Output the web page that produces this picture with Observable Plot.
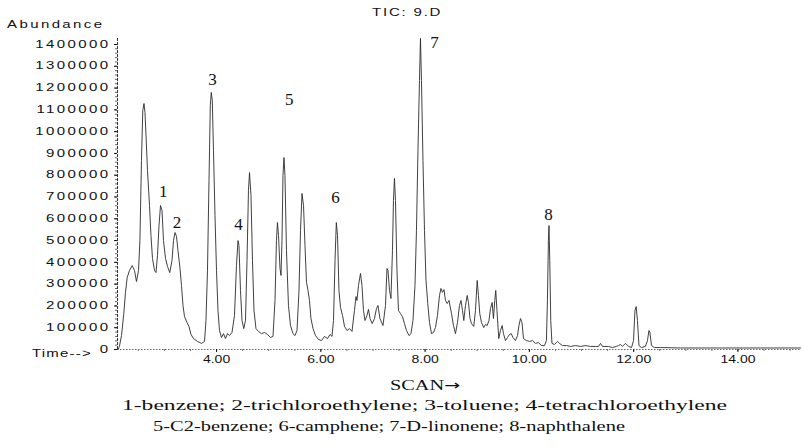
<!DOCTYPE html>
<html><head><meta charset="utf-8">
<script src="https://cdn.jsdelivr.net/npm/d3@7"></script>
<script src="https://cdn.jsdelivr.net/npm/@observablehq/plot@0.6"></script>
<style>
html,body{margin:0;padding:0;background:#fff;}
body{position:relative;width:804px;height:447px;overflow:hidden;}
#chart{position:absolute;left:0;top:0;}
.cap{position:absolute;white-space:nowrap;font-family:"Liberation Serif","Times New Roman",serif;font-size:15px;line-height:15px;color:#111;transform-origin:0 0;}
.arrow{font-family:"DejaVu Sans",sans-serif;font-size:14px;}
</style></head><body>
<div id="chart"></div>
<div class="cap" id="cap0"></div>
<div class="cap" id="cap1"></div>
<div class="cap" id="cap2"></div>
<script>
// ---- data (retention time in minutes, abundance) ----
const times = [
 2.11,2.136,2.177,2.221,2.253,2.286,2.33,2.382,2.426,2.464,
 2.503,2.53,2.56,2.585,2.608,2.627,2.647,2.675,2.714,2.742,
 2.771,2.81,2.838,2.867,2.896,2.925,2.954,2.982,3.021,3.059,
 3.103,3.145,3.174,3.203,3.232,3.26,3.299,3.327,3.356,3.385,
 3.433,3.471,3.51,3.558,3.634,3.711,3.769,3.797,3.826,3.855,
 3.88,3.899,3.918,3.941,3.97,3.999,4.027,4.056,4.095,4.133,
 4.171,4.21,4.248,4.296,4.344,4.382,4.411,4.43,4.459,4.488,
 4.522,4.555,4.584,4.612,4.632,4.66,4.689,4.718,4.756,4.804,
 4.862,4.919,4.977,5.034,5.082,5.121,5.149,5.168,5.188,5.217,
 5.236,5.255,5.274,5.293,5.312,5.341,5.379,5.418,5.466,5.504,
 5.543,5.581,5.61,5.639,5.668,5.696,5.725,5.754,5.782,5.811,
 5.85,5.898,5.955,6.013,6.07,6.128,6.176,6.214,6.243,6.272,
 6.297,6.32,6.348,6.377,6.416,6.454,6.502,6.55,6.598,6.645,
 6.674,6.693,6.722,6.761,6.789,6.818,6.847,6.885,6.914,6.943,
 6.985,7.029,7.067,7.096,7.134,7.192,7.24,7.269,7.288,7.317,
 7.345,7.374,7.393,7.412,7.432,7.46,7.489,7.528,7.566,7.604,
 7.643,7.691,7.729,7.767,7.806,7.834,7.863,7.892,7.911,7.93,
 7.959,7.988,8.017,8.051,8.084,8.122,8.161,8.199,8.237,8.276,
 8.304,8.333,8.362,8.391,8.423,8.458,8.506,8.544,8.582,8.621,
 8.659,8.688,8.717,8.742,8.774,8.807,8.832,8.861,8.889,8.933,
 8.966,8.999,9.023,9.048,9.081,9.125,9.158,9.19,9.225,9.254,
 9.286,9.311,9.336,9.355,9.378,9.413,9.445,9.478,9.503,9.541,
 9.58,9.618,9.651,9.686,9.733,9.772,9.8,9.829,9.858,9.887,
 9.944,10.002,10.059,10.117,10.174,10.232,10.289,10.327,10.346,10.365,
 10.376,10.391,10.41,10.433,10.481,10.539,10.577,10.635,10.711,10.788,
 10.884,10.98,11.076,11.172,11.268,11.325,11.364,11.402,11.517,11.594,
 11.67,11.709,11.747,11.785,11.843,11.901,11.959,11.997,12.025,12.048,
 12.073,12.102,12.15,12.226,12.265,12.293,12.312,12.342,12.399,12.514,
 12.898,13.665,14.432,15.2
];
const abundance = [
 0,13800,64300,165000,262000,330000,363000,385000,363000,312000,
 363000,500000,868000,1097000,1129000,1088000,982000,822000,661000,523000,
 418000,363000,353000,431000,569000,661000,638000,500000,418000,381000,
 353000,408000,500000,537000,519000,454000,372000,294000,202000,151000,
 124000,106000,69000,50000,37000,28000,37000,133000,363000,776000,
 1120000,1180000,1143000,913000,615000,363000,179000,87000,55000,73000,
 50000,73000,64000,78000,156000,386000,500000,477000,271000,133000,
 96000,133000,408000,730000,812000,707000,408000,179000,96000,83000,
 73000,78000,69000,55000,60000,225000,500000,583000,523000,372000,
 340000,500000,799000,881000,799000,454000,202000,110000,73000,64000,
 87000,271000,546000,716000,661000,477000,308000,271000,225000,142000,
 96000,64000,46000,41000,60000,50000,69000,60000,133000,408000,
 583000,523000,271000,193000,156000,106000,87000,96000,83000,179000,
 243000,225000,294000,349000,294000,179000,133000,156000,184000,142000,
 119000,142000,188000,202000,142000,110000,202000,372000,363000,271000,
 234000,454000,684000,785000,684000,363000,179000,165000,151000,119000,
 87000,64000,73000,133000,294000,546000,913000,1235000,1428000,1235000,
 868000,546000,317000,211000,124000,73000,78000,101000,156000,248000,
 280000,262000,275000,225000,211000,225000,165000,110000,73000,124000,
 202000,225000,179000,133000,202000,248000,216000,142000,119000,106000,
 179000,317000,248000,165000,124000,101000,115000,110000,133000,188000,
 216000,142000,225000,271000,179000,50000,87000,110000,73000,41000,
 55000,69000,73000,55000,41000,64000,110000,142000,124000,50000,
 41000,37000,41000,28000,32000,18000,18000,41000,225000,500000,
 569000,408000,133000,28000,23000,37000,28000,18000,18000,14000,
 18000,14000,18000,14000,14000,14000,28000,14000,14000,9000,
 14000,18000,23000,14000,28000,14000,9000,41000,179000,197000,
 133000,18000,9000,14000,41000,87000,78000,18000,9000,9000,
 7000,7000,7000,7000
];
const peakLabels = ["1","2","3","4","5","6","7","8"];
const peakLabelTimes = [2.976, 3.241, 3.922, 4.421, 5.393, 6.281, 8.18, 10.366];
const peakLabelAbundance = [723000, 585000, 1239000, 571500, 1147500, 695400, 1406900, 619700];
const yTicks = [0,100000,200000,300000,400000,500000,600000,700000,800000,900000,1000000,1100000,1200000,1300000,1400000];
const xTicks = [4, 6, 8, 10, 12, 14];
const titleText = "TIC: 9.D";
const yLabelText = "Abundance";
const xLabelText = "Time-->";
const captionTitle = "SCAN";
const captionArrow = "\u2192";
const captionLines = [
  "1-benzene; 2-trichloroethylene; 3-toluene; 4-tetrachloroethylene",
  "5-C2-benzene; 6-camphene; 7-D-linonene; 8-naphthalene"
];

const yMinor = d3.range(0, 1400001, 20000);
const xMinor = d3.range(2.5, 15.1, 0.5);

const series = times.map((t, i) => ({t, a: abundance[i]}));
const peaks = peakLabels.map((label, i) => ({label, t: peakLabelTimes[i], a: peakLabelAbundance[i]}));

const svg = Plot.plot({
  width: 804, height: 368,
  marginLeft: 117, marginRight: 4, marginTop: 38, marginBottom: 19,
  x: {domain: [2.1, 15.2], label: null},
  y: {domain: [0, 1427500], label: null},
  style: {background: "#fff", color: "#111", fontFamily: "'Liberation Sans', Arial, sans-serif", fontSize: "10px"},
  marks: [
    Plot.ruleY([0], {stroke: "#666", strokeDasharray: "1.5,1.5"}),
    Plot.ruleX([2.1], {stroke: "#333", strokeDasharray: "3,1"}),
    Plot.axisY({ticks: yMinor, tickSize: 2, tickFormat: () => "", stroke: "#666", label: null}),
    Plot.axisY({ticks: yTicks, tickSize: 3, tickPadding: 4, tickFormat: d => String(d), fontSize: 10, label: null}),
    Plot.axisX({ticks: xMinor, tickSize: 2, tickFormat: () => "", stroke: "#777", label: null}),
    Plot.axisX({ticks: xTicks, tickSize: 3, tickPadding: 3, tickFormat: d3.format(".2f"), fontSize: 10, label: null}),
    Plot.line(series, {x: "t", y: "a", stroke: "#2b2b2b", strokeWidth: 0.9}),
    Plot.text(peaks, {x: "t", y: "a", text: "label", fontFamily: "'Liberation Serif', 'Times New Roman', serif", fontSize: 17, fill: "#111"})
  ]
});
document.getElementById("chart").appendChild(svg);

// widen the sans-serif labels like the scanned original
function widen(el, k) {
  const L = el.getComputedTextLength();
  if (L > 0) {
    el.setAttribute("textLength", (L * k).toFixed(2));
    el.setAttribute("lengthAdjust", "spacingAndGlyphs");
  }
}
svg.querySelectorAll('g[aria-label="y-axis tick label"] text').forEach(t => { t.style.letterSpacing = "1.6px"; widen(t, 1.5); });
svg.querySelectorAll('g[aria-label="x-axis tick label"] text').forEach(t => { widen(t, 1.4); });

const s = d3.select(svg);
function addText(str, x, y, ls, k) {
  const t = s.append("text").text(str)
    .attr("x", x).attr("y", y)
    .attr("text-anchor", "start")
    .attr("fill", "#111")
    .style("font-family", "'Liberation Sans', Arial, sans-serif")
    .style("font-size", "10px")
    .style("letter-spacing", ls + "px");
  widen(t.node(), k);
}
addText(yLabelText, 7, 27.5, 1.6, 1.5);
addText(titleText, 372, 15.5, 1.2, 1.5);
addText(xLabelText, 32, 357, 0.8, 1.5);

function placeCap(id, left, top, targetW) {
  const el = document.getElementById(id);
  el.style.left = left + "px";
  el.style.top = top + "px";
  const w = el.getBoundingClientRect().width;
  el.style.transform = `scaleX(${targetW / w})`;
}
const c0 = document.getElementById("cap0");
c0.appendChild(document.createTextNode(captionTitle));
const ar = document.createElement("span");
ar.className = "arrow";
ar.textContent = captionArrow;
c0.appendChild(ar);
document.getElementById("cap1").textContent = captionLines[0];
document.getElementById("cap2").textContent = captionLines[1];
placeCap("cap0", 390, 378, 70);
placeCap("cap1", 122, 398, 605);
placeCap("cap2", 153, 418.5, 472);
</script>
</body></html>
